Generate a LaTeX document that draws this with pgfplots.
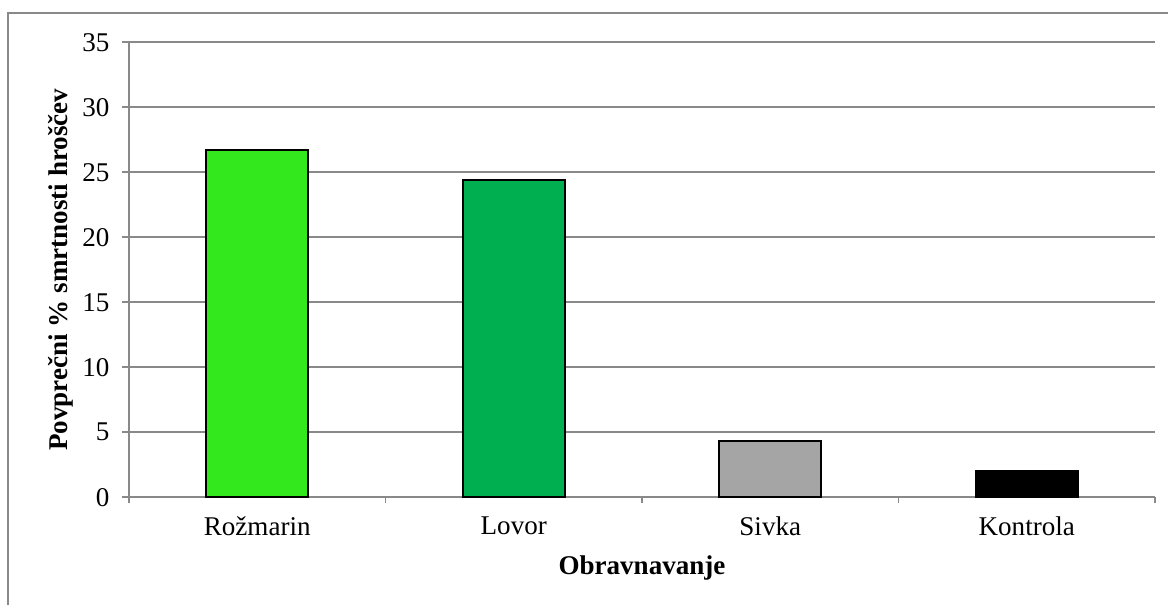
\documentclass[border=0pt,12pt]{standalone}
\usepackage{fontspec}
\setmainfont{Liberation Serif}
\usepackage{pgfplots}
\pgfplotsset{compat=1.18}

\definecolor{rozmarin}{HTML}{33E91E}
\definecolor{lovor}{HTML}{00B050}
\definecolor{sivka}{HTML}{A5A5A5}
\definecolor{gridgray}{HTML}{898989}

\begin{document}
\begin{tikzpicture}
\begin{axis}[
  name=ax,
  scale only axis,
  width=466.4pt, height=206.8pt,
  xmin=-0.5, xmax=3.5,
  ymin=0, ymax=35,
  ytick={0,5,...,35},
  xtick={0,1,2,3},
  xticklabels={Rožmarin, Lovor, Sivka, Kontrola},
  minor xtick={-0.5,0.5,1.5,2.5,3.5},
  axis lines*=left,
  axis line style={gridgray, line width=0.9pt},
  tick align=outside,
  xtick pos=bottom, ytick pos=left,
  x tick style={draw=none},
  minor x tick style={draw=gridgray, line width=0.9pt},
  y tick style={gridgray, line width=0.9pt},
  major tick length=3.2pt,
  minor tick length=2.8pt,
  ymajorgrids,
  major grid style={gridgray, line width=0.9pt},
  /pgf/number format/assume math mode=true,
  ticklabel style={font=\fontsize{12.3}{14}\selectfont},
  xticklabel style={yshift=-1.5pt},
  yticklabel style={xshift=-1.5pt},
  xlabel={\textbf{Obravnavanje}},
  ylabel={\textbf{Povprečni \% smrtnosti hroščev}},
  label style={font=\fontsize{12.3}{14}\selectfont},
  xlabel style={yshift=-0.8pt},
  ylabel style={yshift=-4pt},
  ybar, bar width=46.4pt, bar shift=0pt,
  every axis plot/.append style={draw=black, line width=0.8pt},
]
\addplot[fill=rozmarin] coordinates {(0,26.7)};
\addplot[fill=lovor] coordinates {(1,24.4)};
\addplot[fill=sivka] coordinates {(2,4.35)};
\addplot[fill=black] coordinates {(3,2.05)};
\end{axis}
\path[use as bounding box] ([xshift=-58.64pt,yshift=-48.95pt]ax.south west)
  rectangle ([xshift=5.91pt,yshift=19.23pt]ax.north east);
\draw[gridgray, line width=0.8pt]
  ([xshift=-55pt,yshift=-80pt]ax.south west)
  -- ([xshift=-55pt,yshift=13.3pt]ax.north west)
  -- ([xshift=40pt,yshift=13.3pt]ax.north east);
\end{tikzpicture}
\end{document}
